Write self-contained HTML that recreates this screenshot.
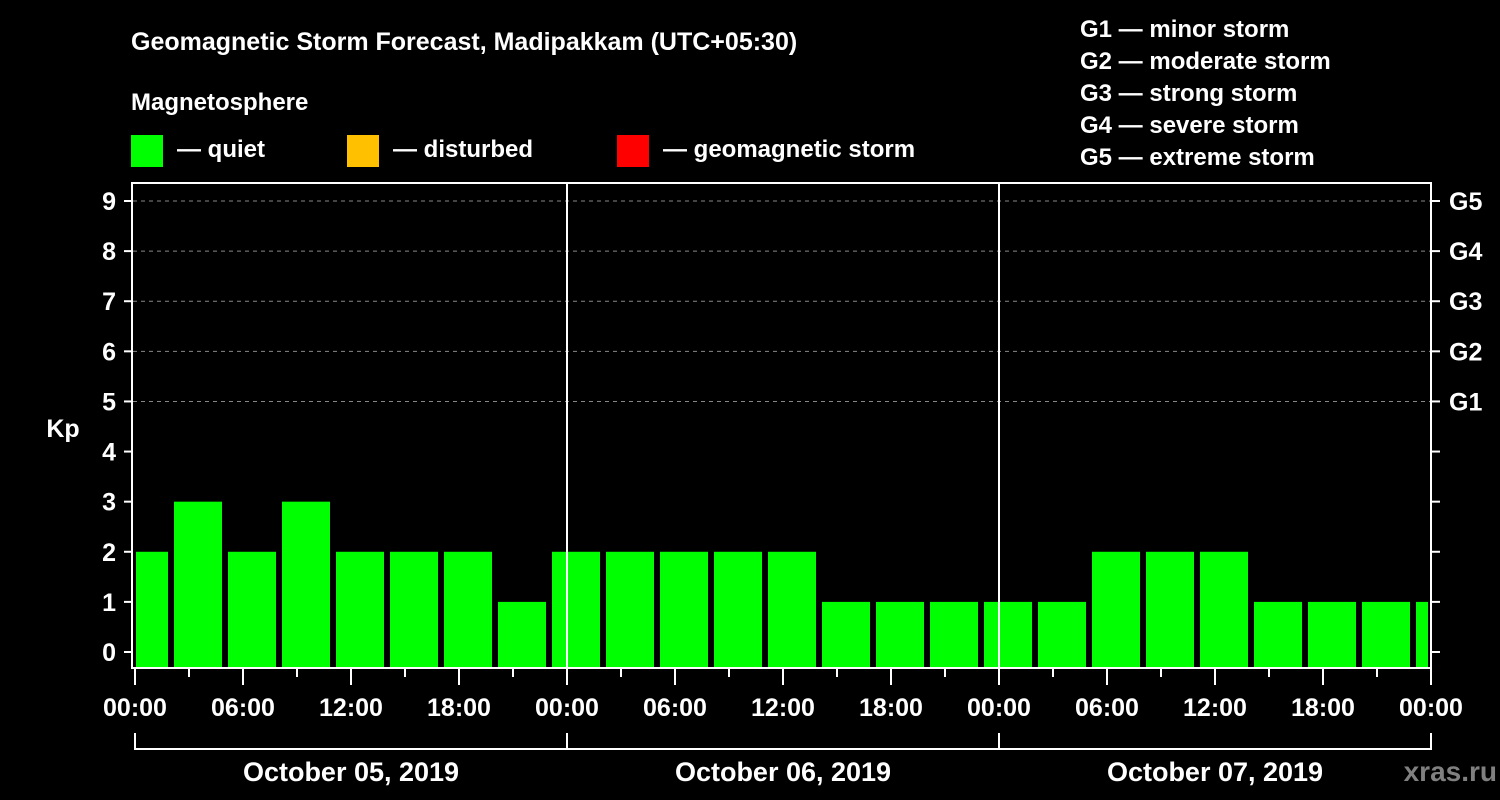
<!DOCTYPE html>
<html><head><meta charset="utf-8">
<style>
html,body{margin:0;padding:0;background:#000;}
svg{display:block;font-family:"Liberation Sans",Arial,sans-serif;font-weight:bold;}
</style></head>
<body>
<svg id="chart" width="1500" height="800" viewBox="0 0 1500 800" xmlns="http://www.w3.org/2000/svg">
<rect width="1500" height="800" fill="#000"/>
<text x="131" y="50" fill="#fff" font-size="25">Geomagnetic Storm Forecast, Madipakkam (UTC+05:30)</text>
<text x="131" y="110" fill="#fff" font-size="24">Magnetosphere</text>
<g><rect x="131" y="135" width="32" height="32" fill="#00ff00"/><text x="177" y="157" fill="#fff" font-size="24">— quiet</text></g>
<g><rect x="347" y="135" width="32" height="32" fill="#ffc000"/><text x="393" y="157" fill="#fff" font-size="24">— disturbed</text></g>
<g><rect x="617" y="135" width="32" height="32" fill="#ff0000"/><text x="663" y="157" fill="#fff" font-size="24">— geomagnetic storm</text></g>
<g fill="#fff" font-size="24">
<text x="1080" y="37">G1 — minor storm</text>
<text x="1080" y="69">G2 — moderate storm</text>
<text x="1080" y="101">G3 — strong storm</text>
<text x="1080" y="133">G4 — severe storm</text>
<text x="1080" y="165">G5 — extreme storm</text>
</g>
<text x="63" y="437" fill="#fff" font-size="25" text-anchor="middle">Kp</text>
<g id="grid"></g>
<g id="bars"></g>
<g id="axes"></g>
<text x="1497" y="781" fill="#808080" font-size="28" text-anchor="end">xras.ru</text>
</svg>
<script>
const kpValues = [2,3,2,3,2,2,2,1, 2,2,2,2,2,1,1,1, 1,1,2,2,2,1,1,1,1];
const yTicks = [0,1,2,3,4,5,6,7,8,9];
const gLabels = ['G1','G2','G3','G4','G5'];
const gLevels = [5,6,7,8,9];
const hourLabels = ['00:00','06:00','12:00','18:00'];
const dayLabels = ['October 05, 2019','October 06, 2019','October 07, 2019'];
const firstBarStartHour = -1;
const barHours = 3;
const totalHours = 72;

const NS='http://www.w3.org/2000/svg';
const X0=135, X1=1431, Y0=652, YTOP=183, YBOT=668, KPX=(652-201)/9;
const xs=h=>X0+(X1-X0)*h/totalHours;
const ys=v=>Y0-v*KPX;
function mk(tag,attrs,parent){const e=document.createElementNS(NS,tag);for(const k in attrs)e.setAttribute(k,attrs[k]);parent.appendChild(e);return e;}
const grid=document.getElementById('grid'),bars=document.getElementById('bars'),axes=document.getElementById('axes');

gLevels.forEach((lv,i)=>{
  const l=mk('line',{x1:X0-2,x2:X1,y1:ys(lv),y2:ys(lv),stroke:'#888','stroke-width':1,'stroke-dasharray':'4,4'},grid);
  
  
  const t=mk('text',{x:1449,y:ys(lv)+9,fill:'#fff','font-size':25},axes);
  t.textContent=gLabels[i];
  
  
});

kpValues.forEach((v,i)=>{
  const h0=firstBarStartHour+i*barHours, h1=h0+barHours;
  let l=xs(h0)+3, r=xs(h1)-3;
  if(h0<0) l=X0+1;
  if(h1>totalHours) r=X1-3;
  const col=v>=5?'#ff0000':(v>=4?'#ffc000':'#00ff00');
  const b=mk('rect',{x:l,y:ys(v),width:r-l,height:YBOT-ys(v),fill:col},bars);
  
  
});

// day separators
for(let d=1;d<dayLabels.length;d++){
  const s=mk('line',{x1:xs(d*24),x2:xs(d*24),y1:YTOP,y2:YBOT,stroke:'#fff','stroke-width':2},axes);
  
  
}
// frame
const fr=mk('rect',{x:132,y:YTOP,width:X1-132,height:YBOT-YTOP,fill:'none',stroke:'#fff','stroke-width':2},axes);



yTicks.forEach(v=>{
  mk('line',{x1:124,x2:132,y1:ys(v),y2:ys(v),stroke:'#fff','stroke-width':2},axes);
  mk('line',{x1:X1,x2:X1+9,y1:ys(v),y2:ys(v),stroke:'#fff','stroke-width':2},axes);
  const t=mk('text',{x:116,y:ys(v)+9,fill:'#fff','font-size':25,'text-anchor':'end'},axes);
  t.textContent=v;
  
  
});

for(let h=0;h<=totalHours;h+=3){
  const major=h%6===0;
  mk('line',{x1:xs(h),x2:xs(h),y1:YBOT,y2:major?685:677,stroke:'#fff','stroke-width':2},axes);
  if(major){
    const t=mk('text',{x:xs(h),y:716,fill:'#fff','font-size':25,'text-anchor':'middle'},axes);
    t.textContent=hourLabels[(h/6)%4];
    
    
  }
}

dayLabels.forEach((d,i)=>{
  const a=xs(i*24),b=xs((i+1)*24);
  mk('path',{d:`M${a},733V749H${b}V733`,fill:'none',stroke:'#fff','stroke-width':2},axes);
  const t=mk('text',{x:(a+b)/2,y:781,fill:'#fff','font-size':27,'text-anchor':'middle'},axes);
  t.textContent=d;
  
  
});
</script>
</body></html>
